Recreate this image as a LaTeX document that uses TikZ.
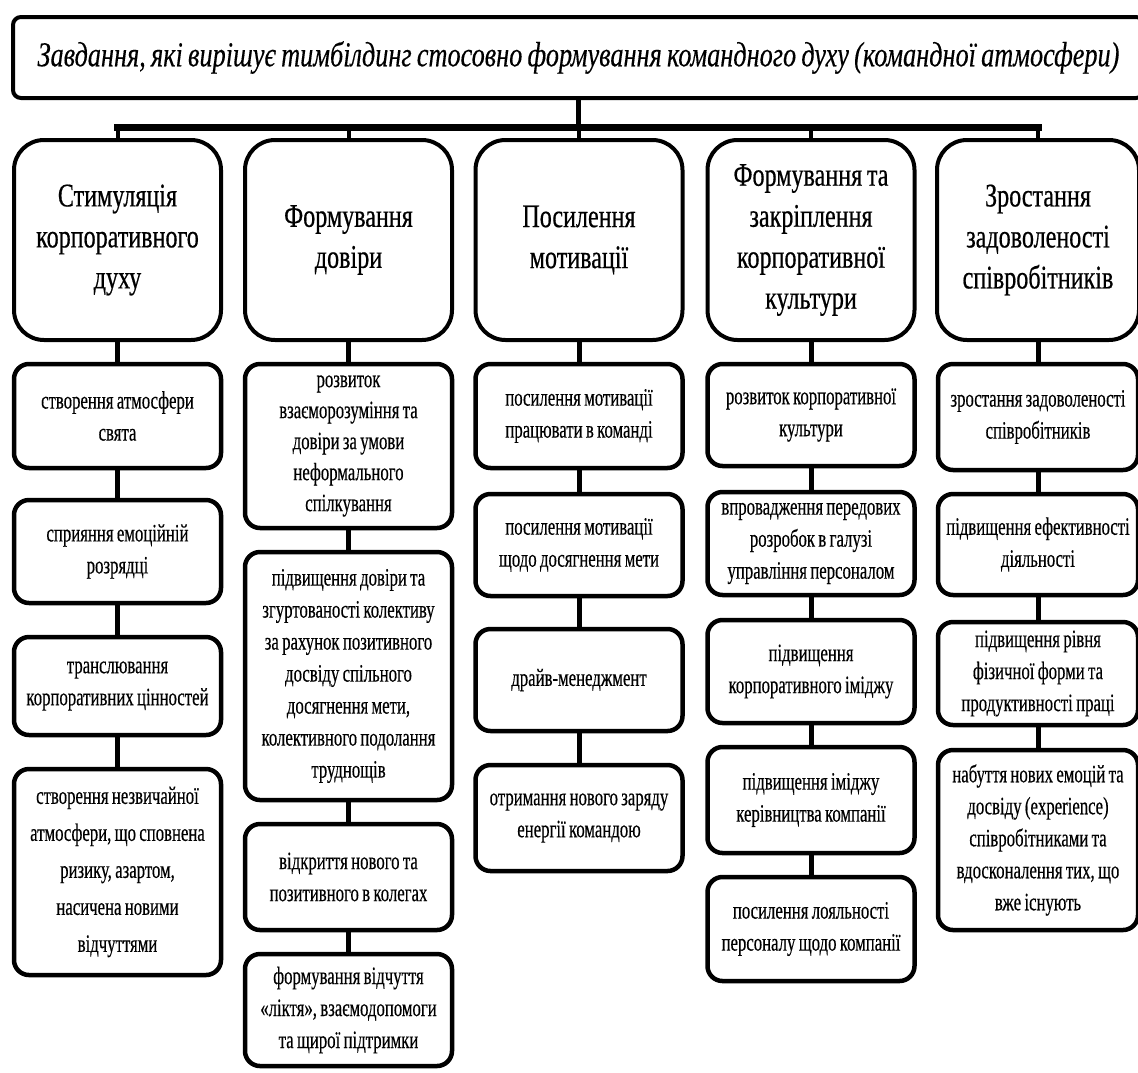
\documentclass[tikz,border=0pt]{standalone}
\usepackage{fontspec}
\setmainfont{Liberation Serif}[FakeStretch=0.67, WordSpace=0.8, FakeBold=0.35]
\newfontfamily\headfont{Liberation Serif}[FakeStretch=0.75, WordSpace=0.8, FakeBold=0.25]
\newfontfamily\topicfont{Liberation Serif}[FakeStretch=0.73, WordSpace=0.8, FakeBold=0.5]
\usepackage{tikz}

\tikzset{
  head/.style={draw, line width=4pt, rounded corners=8pt, minimum width=1131pt,
    minimum height=81pt, inner sep=0pt, font=\headfont\fontsize{35}{40}\selectfont\itshape},
  topic/.style={draw, line width=4pt, rounded corners=30pt, minimum width=207pt,
    minimum height=200pt, text width=199pt, inner xsep=4pt, inner ysep=0pt,
    align=flush center, font=\topicfont\fontsize{33}{41}\selectfont},
  task/.style={draw, line width=4.5pt, rounded corners=15pt, minimum width=207pt,
    text width=201pt, inner xsep=3pt, inner ysep=0pt, align=flush center,
    font=\fontsize{25}{32}\selectfont},
  narrow/.style={minimum width=200pt, text width=194pt},
  bus/.style={line width=7pt, line cap=rect},
  feed/.style={line width=4pt},
  link/.style={line width=5pt}
}

\begin{document}
\begin{tikzpicture}[x=1pt,y=-1pt]
\clip (0,0) rectangle (1138,1072);
\fill[white] (0,0) rectangle (1138,1072);
%goal
\node[head] (goal) at (578.5,57.5) {Завдання, які вирішує тимбілдинг стосовно формування командного духу (командної атмосфери)};
\coordinate (bar) at ([yshift=-27pt]goal.south);
%topics
\node[topic] (t1) at (117.5,240) {Стимуляція\\корпоративного\\духу};
\node[topic] (t2) at (348.5,240) {Формування\\довіри};
\node[topic] (t3) at (579,240) {Посилення\\мотивації};
\node[topic] (t4) at (811,240) {Формування та\\закріплення\\корпоративної\\культури};
\node[topic,narrow] (t5) at (1038,240) {Зростання\\задоволеності\\співробітників};
%bus
\draw[link] (goal) -- (bar);
\draw[bus] (t1.north |- bar) -- (t5.north |- bar);
\foreach \t in {t1,t2,t3,t4,t5}
  \draw[feed] (\t.north) -- (\t.north |- bar);
%column 1
\node[task,minimum height=104pt] (a1) at (117.5,416) {створення атмосфери\\свята};
\node[task,minimum height=103pt] (a2) at (117.5,551.5) {сприяння емоційній\\розрядці};
\node[task,minimum height=98pt] (a3) at (117.5,686) {транслювання\\корпоративних цінностей};
\node[task,minimum height=206pt,font=\fontsize{25}{37}\selectfont] (a4) at (117.5,872) {створення незвичайної\\атмосфери, що сповнена\\ризику, азартом,\\насичена новими\\відчуттями};
\draw[link] (t1) -- (a1);
\draw[link] (a1) -- (a2);
\draw[link] (a2) -- (a3);
\draw[link] (a3) -- (a4);
%column 2
\node[task,minimum height=164pt,font=\fontsize{25}{31}\selectfont] (b1) at (348.5,446) {розвиток\\взаєморозуміння та\\довіри за умови\\неформального\\спілкування};
\node[task,minimum height=248pt] (b2) at (348.5,676) {підвищення довіри та\\згуртованості колективу\\за рахунок позитивного\\досвіду спільного\\досягнення мети,\\колективного подолання\\труднощів};
\node[task,minimum height=106pt] (b3) at (348.5,877) {відкриття нового та\\позитивного в колегах};
\node[task,minimum height=112pt] (b4) at (348.5,1010) {формування відчуття\\«ліктя», взаємодопомоги\\та щирої підтримки};
\draw[link] (t2) -- (b1);
\draw[link] (b1) -- (b2);
\draw[link] (b2) -- (b3);
\draw[link] (b3) -- (b4);
%column 3
\node[task,minimum height=104pt] (c1) at (579,416) {посилення мотивації\\працювати в команді};
\node[task,minimum height=102pt] (c2) at (579,545) {посилення мотивації\\щодо досягнення мети};
\node[task,minimum height=102pt] (c3) at (579,680) {драйв-менеджмент};
\node[task,minimum height=106pt] (c4) at (579,818) {отримання нового заряду\\енергії командою};
\draw[link] (t3) -- (c1);
\draw[link] (c1) -- (c2);
\draw[link] (c2) -- (c3);
\draw[link] (c3) -- (c4);
%column 4
\node[task,minimum height=102pt] (d1) at (811,415) {розвиток корпоративної\\культури};
\node[task,minimum height=103pt] (d2) at (811,543.5) {впровадження передових\\розробок в галузі\\управління персоналом};
\node[task,minimum height=103pt] (d3) at (811,671.5) {підвищення\\корпоративного іміджу};
\node[task,minimum height=106pt] (d4) at (811,800) {підвищення іміджу\\керівництва компанії};
\node[task,minimum height=104pt] (d5) at (811,929) {посилення лояльності\\персоналу щодо компанії};
\draw[link] (t4) -- (d1);
\draw[link] (d1) -- (d2);
\draw[link] (d2) -- (d3);
\draw[link] (d3) -- (d4);
\draw[link] (d4) -- (d5);
%column 5
\node[task,narrow,minimum height=106pt] (e1) at (1038,417) {зростання задоволеності\\співробітників};
\node[task,narrow,minimum height=101pt] (e2) at (1038,544.5) {підвищення ефективності\\діяльності};
\node[task,narrow,minimum height=103pt] (e3) at (1038,673.5) {підвищення рівня\\фізичної форми та\\продуктивності праці};
\node[task,narrow,minimum height=180pt] (e4) at (1038,840) {набуття нових емоцій та\\досвіду (experience)\\співробітниками та\\вдосконалення тих, що\\вже існують};
\draw[link] (t5) -- (e1);
\draw[link] (e1) -- (e2);
\draw[link] (e2) -- (e3);
\draw[link] (e3) -- (e4);
\end{tikzpicture}
\end{document}
